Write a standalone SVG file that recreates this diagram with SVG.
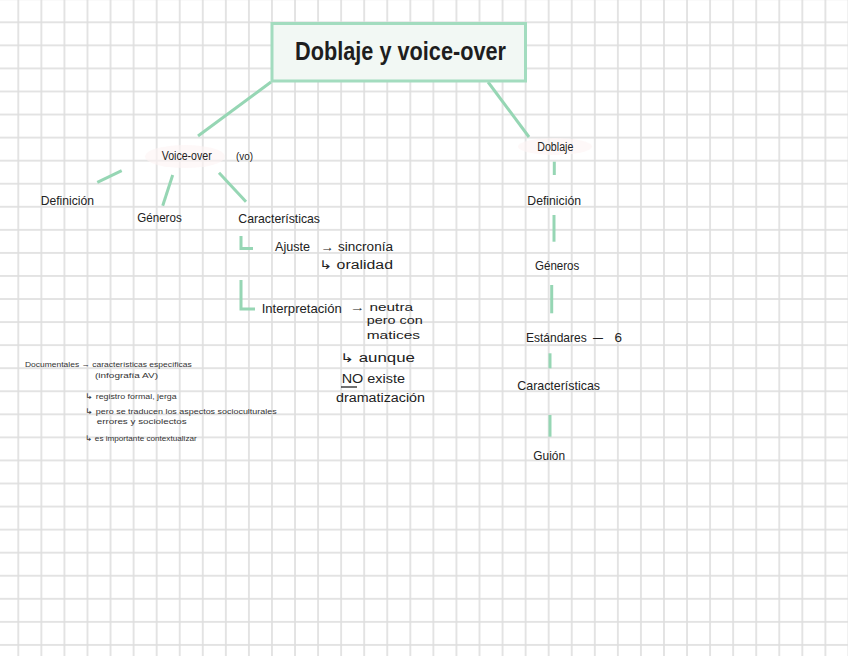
<svg xmlns="http://www.w3.org/2000/svg" width="848" height="656" viewBox="0 0 848 656">
<defs>
<pattern id="grid" patternUnits="userSpaceOnUse" x="6.77" y="10.77" width="23.06" height="23.06">
<line x1="11.53" y1="0" x2="11.53" y2="23.06" stroke="#dedede" stroke-width="1.6"/>
<line x1="0" y1="11.53" x2="23.06" y2="11.53" stroke="#dedede" stroke-width="1.6"/>
</pattern>
<style>
.t{font-family:"Liberation Sans","Open Sans",sans-serif;fill:#222;font-size:13px}
.s{font-family:"Liberation Sans",sans-serif;fill:#333;font-size:7.5px}
.c{stroke:#96d6b4;stroke-width:3;fill:none;stroke-linecap:butt}
.hl{fill:#fdf3f3;opacity:0.6}
</style>
</defs>
<rect width="848" height="656" fill="#ffffff"/>
<rect width="848" height="656" fill="url(#grid)"/>

<g id="connectors">
<line class="c" x1="271" y1="82" x2="198" y2="136"/>
<line class="c" x1="488" y1="82" x2="529" y2="137"/>
<line class="c" x1="121.7" y1="170.7" x2="97.3" y2="182.3"/>
<line class="c" x1="172.7" y1="175" x2="162.7" y2="205.7"/>
<line class="c" x1="219" y1="172.7" x2="246" y2="201.7"/>
<polyline class="c" points="241,236 241,248.5 253,248.5"/>
<polyline class="c" points="241,280 241,309 255,309"/>
<line class="c" x1="554.3" y1="161.7" x2="554.3" y2="175"/>
<line class="c" x1="554" y1="215" x2="554" y2="241.7"/>
<line class="c" x1="551.7" y1="285" x2="551.7" y2="313.3"/>
<line class="c" x1="550" y1="353.3" x2="550" y2="368.3"/>
<line class="c" x1="550" y1="415" x2="550" y2="436.7"/>
</g>

<g id="title">
<rect x="272" y="23.5" width="253.5" height="57.5" fill="#f2f8f4" stroke="#a3dcbf" stroke-width="3"/>
<text x="295" y="60" class="t" style="font-size:26px;font-weight:bold;fill:#1e1e1e" textLength="211" lengthAdjust="spacingAndGlyphs">Doblaje y voice-over</text>
</g>

<g id="voiceover">
<ellipse class="hl" cx="185" cy="156.5" rx="40" ry="11.5"/>
<text x="161.7" y="160" class="t" textLength="50" lengthAdjust="spacingAndGlyphs">Voice-over</text>
<text x="236" y="160" class="t" style="font-size:11px" textLength="17" lengthAdjust="spacingAndGlyphs">(vo)</text>
</g>

<g id="vo-definicion">
<text x="40.7" y="205" class="t" textLength="53.3" lengthAdjust="spacingAndGlyphs">Definición</text>
</g>
<g id="vo-generos">
<text x="137.3" y="222.3" class="t" textLength="44.4" lengthAdjust="spacingAndGlyphs">Géneros</text>
</g>
<g id="vo-caracteristicas">
<text x="238.3" y="223.3" class="t" textLength="81.7" lengthAdjust="spacingAndGlyphs">Características</text>
</g>

<g id="ajuste">
<text x="275" y="251" class="t" textLength="35" lengthAdjust="spacingAndGlyphs">Ajuste</text>
<text x="320.7" y="251" class="t" style="font-size:12px" textLength="72.3" lengthAdjust="spacingAndGlyphs">→ sincronía</text>
<text x="319" y="269" class="t" style="font-size:12px" textLength="74" lengthAdjust="spacingAndGlyphs">↳ oralidad</text>
</g>

<g id="interpretacion">
<text x="261.7" y="313.3" class="t" textLength="80" lengthAdjust="spacingAndGlyphs">Interpretación</text>
<text x="350" y="310.5" class="t" style="font-size:11px" textLength="63" lengthAdjust="spacingAndGlyphs">→ neutra</text>
<text x="366.7" y="324" class="t" style="font-size:11px" textLength="56" lengthAdjust="spacingAndGlyphs">pero con</text>
<text x="366.7" y="339" class="t" style="font-size:11px" textLength="53.3" lengthAdjust="spacingAndGlyphs">matices</text>
<text x="340" y="362" class="t" style="font-size:12px" textLength="75" lengthAdjust="spacingAndGlyphs">↳ aunque</text>
<text x="341.7" y="383" class="t" style="font-size:12px" textLength="63.3" lengthAdjust="spacingAndGlyphs">NO existe</text>
<line x1="341" y1="387" x2="357" y2="387" stroke="#222" stroke-width="1.3"/>
<text x="336" y="402" class="t" style="font-size:12px" textLength="89" lengthAdjust="spacingAndGlyphs">dramatización</text>
</g>

<g id="notas">
<text x="25" y="367" class="s" textLength="166.7" lengthAdjust="spacingAndGlyphs">Documentales → características específicas</text>
<text x="95" y="378" class="s" textLength="63" lengthAdjust="spacingAndGlyphs">(infografía AV)</text>
<text x="85" y="398.5" class="s" textLength="91.7" lengthAdjust="spacingAndGlyphs">↳ registro formal, jerga</text>
<text x="85" y="414" class="s" textLength="191.7" lengthAdjust="spacingAndGlyphs">↳ pero se traducen los aspectos socioculturales</text>
<text x="96.7" y="424" class="s" textLength="90" lengthAdjust="spacingAndGlyphs">errores y sociolectos</text>
<text x="85" y="440.5" class="s" textLength="111.7" lengthAdjust="spacingAndGlyphs">↳ es importante contextualizar</text>
</g>

<g id="doblaje">
<ellipse class="hl" cx="555" cy="146.5" rx="37" ry="8.5"/>
<text x="537.3" y="151" class="t" style="font-size:12px" textLength="36" lengthAdjust="spacingAndGlyphs">Doblaje</text>
</g>
<g id="d-definicion">
<text x="527.3" y="204.5" class="t" textLength="53.7" lengthAdjust="spacingAndGlyphs">Definición</text>
</g>
<g id="d-generos">
<text x="535" y="269.5" class="t" textLength="44.3" lengthAdjust="spacingAndGlyphs">Géneros</text>
</g>
<g id="d-estandares">
<text x="526" y="341.5" class="t" textLength="60.7" lengthAdjust="spacingAndGlyphs">Estándares</text>
<text x="593" y="341.5" class="t" textLength="10" lengthAdjust="spacingAndGlyphs">–</text>
<text x="614.5" y="341.5" class="t" textLength="7.5" lengthAdjust="spacingAndGlyphs">6</text>
</g>
<g id="d-caracteristicas">
<text x="517.3" y="389.5" class="t" textLength="82.7" lengthAdjust="spacingAndGlyphs">Características</text>
</g>
<g id="d-guion">
<text x="533.3" y="460" class="t" textLength="31.7" lengthAdjust="spacingAndGlyphs">Guión</text>
</g>
</svg>
